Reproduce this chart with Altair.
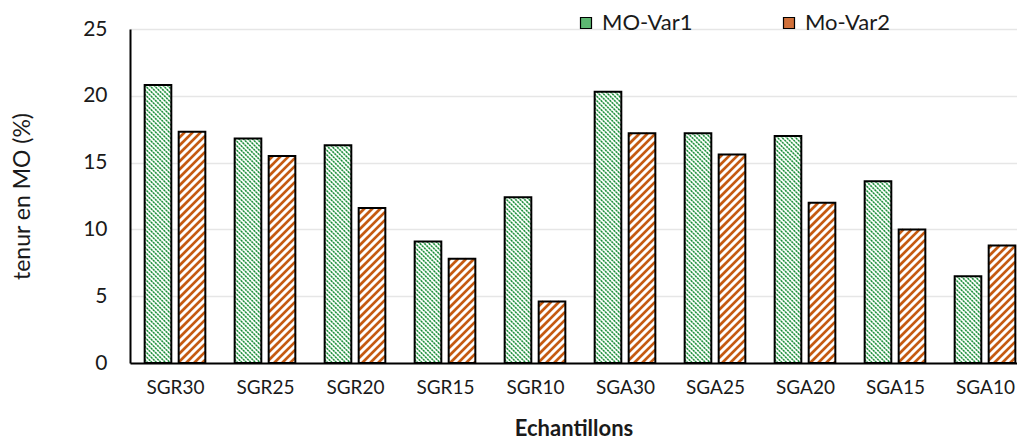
import json

import altair as alt
import numpy as np
import pandas as pd

# Organic matter content per sample, two variants
samples = ["SGR30", "SGR25", "SGR20", "SGR15", "SGR10",
           "SGA30", "SGA25", "SGA20", "SGA15", "SGA10"]
mo_var1 = [20.8, 16.8, 16.3, 9.1, 12.4, 20.3, 17.2, 17.0, 13.6, 6.5]
mo_var2 = [17.3, 15.5, 11.6, 7.8, 4.6, 17.2, 15.6, 12.0, 10.0, 8.8]
series_names = ["MO-Var1", "Mo-Var2"]
y_ticks = [0, 5, 10, 15, 20, 25]

# Layout (pixels)
PLOT_W, PLOT_H = 887, 334
STEP = 90                      # width of one sample slot
X_MAX = PLOT_W / STEP
Y_MAX = 25
PX_X = STEP
PX_Y = PLOT_H / Y_MAX
GAP_HALF = 0.041               # half the gap between the two bars of a pair
BAR_W = 0.296                  # bar width, in slots

FONT = "Lato"
TEXT = "#1a1a1a"
GREEN_LIGHT, GREEN_DARK = "#8fcd9c", "#1b8a3a"
ORANGE = "#c55a11"

# One row per bar
rows = []
for i, name in enumerate(samples):
    centre = i + 0.5
    for s, vals in zip(series_names, (mo_var1, mo_var2)):
        if s == series_names[0]:
            x0, x1 = centre - GAP_HALF - BAR_W, centre - GAP_HALF
        else:
            x0, x1 = centre + GAP_HALF, centre + GAP_HALF + BAR_W
        rows.append({"sample": name, "series": s, "x0": x0, "x1": x1,
                     "value": vals[i], "base": 0.0})
bars = pd.DataFrame(rows)


def hatch(x0, x1, top, period, rising):
    """Diagonal hatch segments clipped to a bar, in data units."""
    ul, ur, vt = x0 * PX_X, x1 * PX_X, top * PX_Y
    out = []
    if rising:   # "/" : v = u + c
        for k in range(int(np.floor(-ur / period)), int(np.ceil((vt - ul) / period)) + 1):
            c = k * period
            a, b = max(ul, -c), min(ur, vt - c)
            if b - a > 0.3:
                out.append((a, a + c, b, b + c))
    else:        # "\" : u + v = c
        for k in range(int(np.floor(ul / period)), int(np.ceil((ur + vt) / period)) + 1):
            c = k * period
            a, b = max(ul, c - vt), min(ur, c)
            if b - a > 0.3:
                out.append((a, c - a, b, c - b))
    return [{"hx0": a / PX_X, "hy0": va / PX_Y, "hx1": b / PX_X, "hy1": vb / PX_Y}
            for a, va, b, vb in out]


green_rows, orange_rows = [], []
for r in rows:
    if r["series"] == series_names[0]:
        green_rows += hatch(r["x0"], r["x1"], r["value"], 4.5, rising=False)
    else:
        orange_rows += hatch(r["x0"], r["x1"], r["value"], 8.0, rising=True)
green_hatch = pd.DataFrame(green_rows)
orange_hatch = pd.DataFrame(orange_rows)

label_expr = json.dumps(samples) + "[floor(datum.value)]"

x_axis = alt.Axis(
    values=[i + 0.5 for i in range(len(samples))], labelExpr=label_expr,
    title="Echantillons", grid=False, ticks=False, tickSize=0,
    domainColor="black", domainWidth=2, labelFlush=False,
    labelFont=FONT, labelFontSize=19, labelColor=TEXT, labelPadding=15,
    titleFont=FONT, titleFontSize=22, titleFontWeight="bold", titleColor=TEXT,
    titleY=65, titleBaseline="middle",
)
y_axis = alt.Axis(
    values=y_ticks, format="d", title="tenur en MO (%)",
    grid=True, gridColor="#e6e6e6", gridWidth=1.3,
    ticks=False, tickSize=0, domainColor="black", domainWidth=2,
    labelFont=FONT, labelFontSize=21, labelColor=TEXT, labelPadding=23,
    titleFont=FONT, titleFontSize=23, titleFontWeight="normal", titleColor=TEXT,
    titleX=-108, titleY=PLOT_H / 2, titleBaseline="middle", titleAlign="center",
)
x_scale = alt.Scale(domain=[0, X_MAX], nice=False, zero=False)
y_scale = alt.Scale(domain=[0, Y_MAX], nice=False)


def X(f):
    return alt.X(f, type="quantitative", scale=x_scale, axis=x_axis)


def Y(f):
    return alt.Y(f, type="quantitative", scale=y_scale, axis=y_axis)


legend = alt.Legend(
    orient="none", legendX=445, legendY=-17, direction="horizontal", title=None,
    symbolType="square", symbolSize=121, symbolStrokeColor="black",
    symbolStrokeWidth=1.2, symbolOpacity=1,
    labelFont=FONT, labelFontSize=22, labelColor=TEXT, labelOffset=5,
    columnPadding=85,
)

# Bars carrying the series colours (used by the legend)
colour_bars = alt.Chart(bars).mark_rect().encode(
    x=X("x0"), x2="x1", y=Y("value"), y2="base",
    color=alt.Color("series:N", scale=alt.Scale(domain=series_names,
                                                range=["#5db872", "#d0703a"]),
                    legend=legend),
)

# White background of each bar
white_bars = alt.Chart(bars).mark_rect(fill="white").encode(
    x=X("x0"), x2="x1", y=Y("value"), y2="base",
)

green_base = alt.Chart(green_hatch).mark_rule(
    color=GREEN_LIGHT, strokeWidth=1.4
).encode(x=X("hx0"), x2="hx1", y=Y("hy0"), y2="hy1")

green_dots = alt.Chart(green_hatch).mark_rule(
    color=GREEN_DARK, strokeWidth=1.4, strokeDash=[1.6, 1.4]
).encode(x=X("hx0"), x2="hx1", y=Y("hy0"), y2="hy1")

orange_lines = alt.Chart(orange_hatch).mark_rule(
    color=ORANGE, strokeWidth=2.7
).encode(x=X("hx0"), x2="hx1", y=Y("hy0"), y2="hy1")

outlines = alt.Chart(bars).mark_rect(
    fillOpacity=0, stroke="black", strokeWidth=2
).encode(x=X("x0"), x2="x1", y=Y("value"), y2="base")

chart = alt.layer(
    colour_bars, white_bars, green_base, green_dots, orange_lines, outlines
).properties(
    width=PLOT_W, height=PLOT_H,
    padding={"left": 130, "top": 29, "right": 0, "bottom": 77},
    autosize=alt.AutoSizeParams(type="none"),
    background="white",
).configure_view(stroke=None)

chart.save("out.html", embed_options={"renderer": "svg", "actions": False})
